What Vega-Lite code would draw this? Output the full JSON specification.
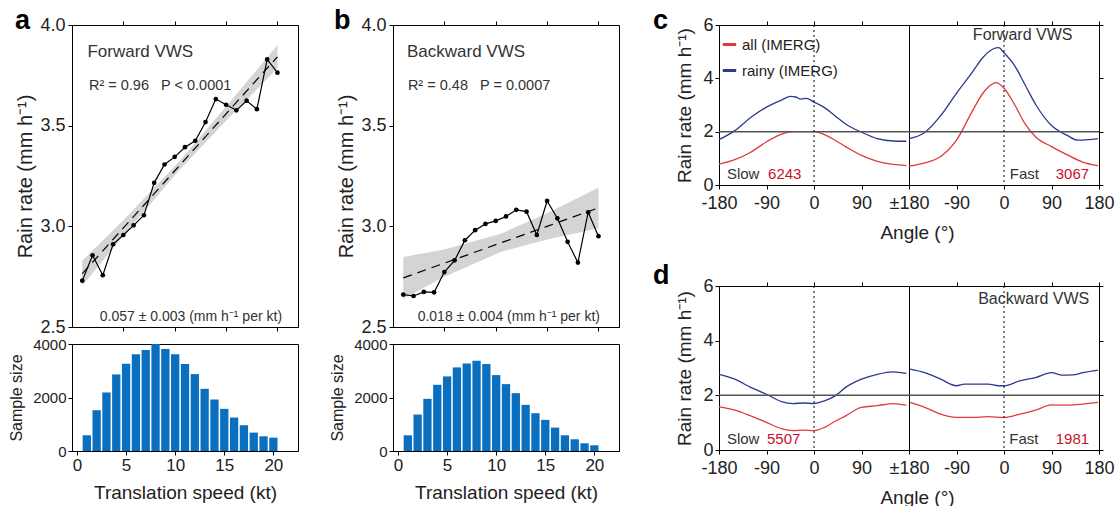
{
"$schema": "https://vega.github.io/schema/vega-lite/v6.json",
"padding": {"left": 8, "top": 6, "right": 5, "bottom": 5},
"config": {
  "font": "Liberation Sans",
  "view": {"stroke": "black", "strokeWidth": 1},
  "axis": {"grid": false, "domainColor": "black", "tickColor": "black", "labelColor": "#222", "titleColor": "#222", "labelFont": "Liberation Sans", "titleFont": "Liberation Sans", "titleFontWeight": "normal", "tickSize": 4, "labelOverlap": false, "labelFlush": false},
  "text": {"font": "Liberation Sans", "color": "#333"}
},
"datasets": {
  "pts": [
    {"shear": "Forward", "speed": 1, "rate": 2.73}, {"shear": "Forward", "speed": 2, "rate": 2.856}, {"shear": "Forward", "speed": 3, "rate": 2.757}, {"shear": "Forward", "speed": 4, "rate": 2.911}, {"shear": "Forward", "speed": 5, "rate": 2.957}, {"shear": "Forward", "speed": 6, "rate": 3.005}, {"shear": "Forward", "speed": 7, "rate": 3.055}, {"shear": "Forward", "speed": 8, "rate": 3.216}, {"shear": "Forward", "speed": 9, "rate": 3.307}, {"shear": "Forward", "speed": 10, "rate": 3.345}, {"shear": "Forward", "speed": 11, "rate": 3.393}, {"shear": "Forward", "speed": 12, "rate": 3.425}, {"shear": "Forward", "speed": 13, "rate": 3.518}, {"shear": "Forward", "speed": 14, "rate": 3.632}, {"shear": "Forward", "speed": 15, "rate": 3.604}, {"shear": "Forward", "speed": 16, "rate": 3.576}, {"shear": "Forward", "speed": 17, "rate": 3.624}, {"shear": "Forward", "speed": 18, "rate": 3.582}, {"shear": "Forward", "speed": 19, "rate": 3.829}, {"shear": "Forward", "speed": 20, "rate": 3.763},
    {"shear": "Backward", "speed": 1, "rate": 2.661}, {"shear": "Backward", "speed": 2, "rate": 2.654}, {"shear": "Backward", "speed": 3, "rate": 2.674}, {"shear": "Backward", "speed": 4, "rate": 2.672}, {"shear": "Backward", "speed": 5, "rate": 2.773}, {"shear": "Backward", "speed": 6, "rate": 2.831}, {"shear": "Backward", "speed": 7, "rate": 2.931}, {"shear": "Backward", "speed": 8, "rate": 2.981}, {"shear": "Backward", "speed": 9, "rate": 3.012}, {"shear": "Backward", "speed": 10, "rate": 3.027}, {"shear": "Backward", "speed": 11, "rate": 3.049}, {"shear": "Backward", "speed": 12, "rate": 3.082}, {"shear": "Backward", "speed": 13, "rate": 3.073}, {"shear": "Backward", "speed": 14, "rate": 2.957}, {"shear": "Backward", "speed": 15, "rate": 3.126}, {"shear": "Backward", "speed": 16, "rate": 3.04}, {"shear": "Backward", "speed": 17, "rate": 2.923}, {"shear": "Backward", "speed": 18, "rate": 2.82}, {"shear": "Backward", "speed": 19, "rate": 3.07}, {"shear": "Backward", "speed": 20, "rate": 2.951}
  ],
  "fits": [
    {"shear": "Forward", "speed": 1, "fit": 2.765, "lo": 2.705, "hi": 2.83}, {"shear": "Forward", "speed": 5, "fit": 2.992, "lo": 2.955, "hi": 3.03}, {"shear": "Forward", "speed": 10.5, "fit": 3.304, "lo": 3.282, "hi": 3.326}, {"shear": "Forward", "speed": 15, "fit": 3.559, "lo": 3.525, "hi": 3.595}, {"shear": "Forward", "speed": 20, "fit": 3.842, "lo": 3.785, "hi": 3.9},
    {"shear": "Backward", "speed": 1, "fit": 2.744, "lo": 2.64, "hi": 2.848}, {"shear": "Backward", "speed": 5, "fit": 2.817, "lo": 2.75, "hi": 2.885}, {"shear": "Backward", "speed": 10.5, "fit": 2.918, "lo": 2.873, "hi": 2.963}, {"shear": "Backward", "speed": 15, "fit": 3.0, "lo": 2.935, "hi": 3.065}, {"shear": "Backward", "speed": 20, "fit": 3.092, "lo": 2.99, "hi": 3.192}
  ],
  "counts": [
    {"shear": "Forward", "speed": 1, "n": 588}, {"shear": "Forward", "speed": 2, "n": 1525}, {"shear": "Forward", "speed": 3, "n": 2188}, {"shear": "Forward", "speed": 4, "n": 2863}, {"shear": "Forward", "speed": 5, "n": 3263}, {"shear": "Forward", "speed": 6, "n": 3613}, {"shear": "Forward", "speed": 7, "n": 3775}, {"shear": "Forward", "speed": 8, "n": 4000}, {"shear": "Forward", "speed": 9, "n": 3813}, {"shear": "Forward", "speed": 10, "n": 3613}, {"shear": "Forward", "speed": 11, "n": 3250}, {"shear": "Forward", "speed": 12, "n": 2875}, {"shear": "Forward", "speed": 13, "n": 2325}, {"shear": "Forward", "speed": 14, "n": 1925}, {"shear": "Forward", "speed": 15, "n": 1575}, {"shear": "Forward", "speed": 16, "n": 1250}, {"shear": "Forward", "speed": 17, "n": 963}, {"shear": "Forward", "speed": 18, "n": 688}, {"shear": "Forward", "speed": 19, "n": 550}, {"shear": "Forward", "speed": 20, "n": 500},
    {"shear": "Backward", "speed": 1, "n": 588}, {"shear": "Backward", "speed": 2, "n": 1363}, {"shear": "Backward", "speed": 3, "n": 1950}, {"shear": "Backward", "speed": 4, "n": 2475}, {"shear": "Backward", "speed": 5, "n": 2788}, {"shear": "Backward", "speed": 6, "n": 3125}, {"shear": "Backward", "speed": 7, "n": 3275}, {"shear": "Backward", "speed": 8, "n": 3375}, {"shear": "Backward", "speed": 9, "n": 3250}, {"shear": "Backward", "speed": 10, "n": 2838}, {"shear": "Backward", "speed": 11, "n": 2500}, {"shear": "Backward", "speed": 12, "n": 2163}, {"shear": "Backward", "speed": 13, "n": 1725}, {"shear": "Backward", "speed": 14, "n": 1413}, {"shear": "Backward", "speed": 15, "n": 1163}, {"shear": "Backward", "speed": 16, "n": 875}, {"shear": "Backward", "speed": 17, "n": 588}, {"shear": "Backward", "speed": 18, "n": 438}, {"shear": "Backward", "speed": 19, "n": 288}, {"shear": "Backward", "speed": 20, "n": 213}
  ],
  "prof": [
    {"shear": "Forward", "cls": "Slow", "type": "all (IMERG)", "angle": -180, "rate": 0.78}, {"shear": "Forward", "cls": "Slow", "type": "all (IMERG)", "angle": -150, "rate": 0.95}, {"shear": "Forward", "cls": "Slow", "type": "all (IMERG)", "angle": -120, "rate": 1.23}, {"shear": "Forward", "cls": "Slow", "type": "all (IMERG)", "angle": -90, "rate": 1.62}, {"shear": "Forward", "cls": "Slow", "type": "all (IMERG)", "angle": -60, "rate": 1.92}, {"shear": "Forward", "cls": "Slow", "type": "all (IMERG)", "angle": -40, "rate": 2.0}, {"shear": "Forward", "cls": "Slow", "type": "all (IMERG)", "angle": -20, "rate": 2.0}, {"shear": "Forward", "cls": "Slow", "type": "all (IMERG)", "angle": 0, "rate": 2.0}, {"shear": "Forward", "cls": "Slow", "type": "all (IMERG)", "angle": 20, "rate": 1.89}, {"shear": "Forward", "cls": "Slow", "type": "all (IMERG)", "angle": 40, "rate": 1.68}, {"shear": "Forward", "cls": "Slow", "type": "all (IMERG)", "angle": 60, "rate": 1.44}, {"shear": "Forward", "cls": "Slow", "type": "all (IMERG)", "angle": 90, "rate": 1.11}, {"shear": "Forward", "cls": "Slow", "type": "all (IMERG)", "angle": 120, "rate": 0.89}, {"shear": "Forward", "cls": "Slow", "type": "all (IMERG)", "angle": 150, "rate": 0.77}, {"shear": "Forward", "cls": "Slow", "type": "all (IMERG)", "angle": 175, "rate": 0.73},
    {"shear": "Forward", "cls": "Slow", "type": "rainy (IMERG)", "angle": -180, "rate": 1.70}, {"shear": "Forward", "cls": "Slow", "type": "rainy (IMERG)", "angle": -150, "rate": 2.04}, {"shear": "Forward", "cls": "Slow", "type": "rainy (IMERG)", "angle": -120, "rate": 2.53}, {"shear": "Forward", "cls": "Slow", "type": "rainy (IMERG)", "angle": -90, "rate": 2.92}, {"shear": "Forward", "cls": "Slow", "type": "rainy (IMERG)", "angle": -60, "rate": 3.20}, {"shear": "Forward", "cls": "Slow", "type": "rainy (IMERG)", "angle": -45, "rate": 3.32}, {"shear": "Forward", "cls": "Slow", "type": "rainy (IMERG)", "angle": -35, "rate": 3.30}, {"shear": "Forward", "cls": "Slow", "type": "rainy (IMERG)", "angle": -25, "rate": 3.22}, {"shear": "Forward", "cls": "Slow", "type": "rainy (IMERG)", "angle": -15, "rate": 3.25}, {"shear": "Forward", "cls": "Slow", "type": "rainy (IMERG)", "angle": 0, "rate": 3.11}, {"shear": "Forward", "cls": "Slow", "type": "rainy (IMERG)", "angle": 20, "rate": 2.90}, {"shear": "Forward", "cls": "Slow", "type": "rainy (IMERG)", "angle": 40, "rate": 2.59}, {"shear": "Forward", "cls": "Slow", "type": "rainy (IMERG)", "angle": 60, "rate": 2.29}, {"shear": "Forward", "cls": "Slow", "type": "rainy (IMERG)", "angle": 90, "rate": 1.98}, {"shear": "Forward", "cls": "Slow", "type": "rainy (IMERG)", "angle": 120, "rate": 1.74}, {"shear": "Forward", "cls": "Slow", "type": "rainy (IMERG)", "angle": 150, "rate": 1.65}, {"shear": "Forward", "cls": "Slow", "type": "rainy (IMERG)", "angle": 175, "rate": 1.64},
    {"shear": "Forward", "cls": "Fast", "type": "all (IMERG)", "angle": -180, "rate": 0.71}, {"shear": "Forward", "cls": "Fast", "type": "all (IMERG)", "angle": -150, "rate": 0.83}, {"shear": "Forward", "cls": "Fast", "type": "all (IMERG)", "angle": -120, "rate": 1.07}, {"shear": "Forward", "cls": "Fast", "type": "all (IMERG)", "angle": -90, "rate": 1.68}, {"shear": "Forward", "cls": "Fast", "type": "all (IMERG)", "angle": -60, "rate": 2.77}, {"shear": "Forward", "cls": "Fast", "type": "all (IMERG)", "angle": -40, "rate": 3.44}, {"shear": "Forward", "cls": "Fast", "type": "all (IMERG)", "angle": -20, "rate": 3.81}, {"shear": "Forward", "cls": "Fast", "type": "all (IMERG)", "angle": -15, "rate": 3.84}, {"shear": "Forward", "cls": "Fast", "type": "all (IMERG)", "angle": 0, "rate": 3.63}, {"shear": "Forward", "cls": "Fast", "type": "all (IMERG)", "angle": 20, "rate": 3.02}, {"shear": "Forward", "cls": "Fast", "type": "all (IMERG)", "angle": 40, "rate": 2.29}, {"shear": "Forward", "cls": "Fast", "type": "all (IMERG)", "angle": 60, "rate": 1.80}, {"shear": "Forward", "cls": "Fast", "type": "all (IMERG)", "angle": 90, "rate": 1.44}, {"shear": "Forward", "cls": "Fast", "type": "all (IMERG)", "angle": 120, "rate": 1.13}, {"shear": "Forward", "cls": "Fast", "type": "all (IMERG)", "angle": 150, "rate": 0.85}, {"shear": "Forward", "cls": "Fast", "type": "all (IMERG)", "angle": 178, "rate": 0.73},
    {"shear": "Forward", "cls": "Fast", "type": "rainy (IMERG)", "angle": -180, "rate": 1.74}, {"shear": "Forward", "cls": "Fast", "type": "rainy (IMERG)", "angle": -150, "rate": 1.97}, {"shear": "Forward", "cls": "Fast", "type": "rainy (IMERG)", "angle": -120, "rate": 2.6}, {"shear": "Forward", "cls": "Fast", "type": "rainy (IMERG)", "angle": -90, "rate": 3.44}, {"shear": "Forward", "cls": "Fast", "type": "rainy (IMERG)", "angle": -60, "rate": 4.23}, {"shear": "Forward", "cls": "Fast", "type": "rainy (IMERG)", "angle": -40, "rate": 4.78}, {"shear": "Forward", "cls": "Fast", "type": "rainy (IMERG)", "angle": -20, "rate": 5.11}, {"shear": "Forward", "cls": "Fast", "type": "rainy (IMERG)", "angle": -10, "rate": 5.15}, {"shear": "Forward", "cls": "Fast", "type": "rainy (IMERG)", "angle": 0, "rate": 4.96}, {"shear": "Forward", "cls": "Fast", "type": "rainy (IMERG)", "angle": 20, "rate": 4.48}, {"shear": "Forward", "cls": "Fast", "type": "rainy (IMERG)", "angle": 40, "rate": 3.75}, {"shear": "Forward", "cls": "Fast", "type": "rainy (IMERG)", "angle": 60, "rate": 3.02}, {"shear": "Forward", "cls": "Fast", "type": "rainy (IMERG)", "angle": 90, "rate": 2.23}, {"shear": "Forward", "cls": "Fast", "type": "rainy (IMERG)", "angle": 120, "rate": 1.86}, {"shear": "Forward", "cls": "Fast", "type": "rainy (IMERG)", "angle": 140, "rate": 1.68}, {"shear": "Forward", "cls": "Fast", "type": "rainy (IMERG)", "angle": 160, "rate": 1.70}, {"shear": "Forward", "cls": "Fast", "type": "rainy (IMERG)", "angle": 178, "rate": 1.74},
    {"shear": "Backward", "cls": "Slow", "type": "all (IMERG)", "angle": -180, "rate": 1.58}, {"shear": "Backward", "cls": "Slow", "type": "all (IMERG)", "angle": -150, "rate": 1.46}, {"shear": "Backward", "cls": "Slow", "type": "all (IMERG)", "angle": -120, "rate": 1.25}, {"shear": "Backward", "cls": "Slow", "type": "all (IMERG)", "angle": -90, "rate": 1.01}, {"shear": "Backward", "cls": "Slow", "type": "all (IMERG)", "angle": -60, "rate": 0.77}, {"shear": "Backward", "cls": "Slow", "type": "all (IMERG)", "angle": -40, "rate": 0.71}, {"shear": "Backward", "cls": "Slow", "type": "all (IMERG)", "angle": -20, "rate": 0.73}, {"shear": "Backward", "cls": "Slow", "type": "all (IMERG)", "angle": 0, "rate": 0.71}, {"shear": "Backward", "cls": "Slow", "type": "all (IMERG)", "angle": 20, "rate": 0.83}, {"shear": "Backward", "cls": "Slow", "type": "all (IMERG)", "angle": 40, "rate": 1.05}, {"shear": "Backward", "cls": "Slow", "type": "all (IMERG)", "angle": 60, "rate": 1.25}, {"shear": "Backward", "cls": "Slow", "type": "all (IMERG)", "angle": 90, "rate": 1.56}, {"shear": "Backward", "cls": "Slow", "type": "all (IMERG)", "angle": 120, "rate": 1.62}, {"shear": "Backward", "cls": "Slow", "type": "all (IMERG)", "angle": 150, "rate": 1.70}, {"shear": "Backward", "cls": "Slow", "type": "all (IMERG)", "angle": 175, "rate": 1.64},
    {"shear": "Backward", "cls": "Slow", "type": "rainy (IMERG)", "angle": -180, "rate": 2.77}, {"shear": "Backward", "cls": "Slow", "type": "rainy (IMERG)", "angle": -150, "rate": 2.59}, {"shear": "Backward", "cls": "Slow", "type": "rainy (IMERG)", "angle": -120, "rate": 2.29}, {"shear": "Backward", "cls": "Slow", "type": "rainy (IMERG)", "angle": -90, "rate": 2.04}, {"shear": "Backward", "cls": "Slow", "type": "rainy (IMERG)", "angle": -60, "rate": 1.76}, {"shear": "Backward", "cls": "Slow", "type": "rainy (IMERG)", "angle": -40, "rate": 1.70}, {"shear": "Backward", "cls": "Slow", "type": "rainy (IMERG)", "angle": -20, "rate": 1.72}, {"shear": "Backward", "cls": "Slow", "type": "rainy (IMERG)", "angle": 0, "rate": 1.70}, {"shear": "Backward", "cls": "Slow", "type": "rainy (IMERG)", "angle": 20, "rate": 1.80}, {"shear": "Backward", "cls": "Slow", "type": "rainy (IMERG)", "angle": 40, "rate": 1.98}, {"shear": "Backward", "cls": "Slow", "type": "rainy (IMERG)", "angle": 60, "rate": 2.29}, {"shear": "Backward", "cls": "Slow", "type": "rainy (IMERG)", "angle": 90, "rate": 2.59}, {"shear": "Backward", "cls": "Slow", "type": "rainy (IMERG)", "angle": 120, "rate": 2.77}, {"shear": "Backward", "cls": "Slow", "type": "rainy (IMERG)", "angle": 150, "rate": 2.86}, {"shear": "Backward", "cls": "Slow", "type": "rainy (IMERG)", "angle": 175, "rate": 2.80},
    {"shear": "Backward", "cls": "Fast", "type": "all (IMERG)", "angle": -178, "rate": 1.74}, {"shear": "Backward", "cls": "Fast", "type": "all (IMERG)", "angle": -150, "rate": 1.56}, {"shear": "Backward", "cls": "Fast", "type": "all (IMERG)", "angle": -120, "rate": 1.31}, {"shear": "Backward", "cls": "Fast", "type": "all (IMERG)", "angle": -90, "rate": 1.19}, {"shear": "Backward", "cls": "Fast", "type": "all (IMERG)", "angle": -60, "rate": 1.19}, {"shear": "Backward", "cls": "Fast", "type": "all (IMERG)", "angle": -30, "rate": 1.22}, {"shear": "Backward", "cls": "Fast", "type": "all (IMERG)", "angle": 0, "rate": 1.19}, {"shear": "Backward", "cls": "Fast", "type": "all (IMERG)", "angle": 30, "rate": 1.31}, {"shear": "Backward", "cls": "Fast", "type": "all (IMERG)", "angle": 60, "rate": 1.46}, {"shear": "Backward", "cls": "Fast", "type": "all (IMERG)", "angle": 90, "rate": 1.65}, {"shear": "Backward", "cls": "Fast", "type": "all (IMERG)", "angle": 120, "rate": 1.64}, {"shear": "Backward", "cls": "Fast", "type": "all (IMERG)", "angle": 150, "rate": 1.68}, {"shear": "Backward", "cls": "Fast", "type": "all (IMERG)", "angle": 178, "rate": 1.74},
    {"shear": "Backward", "cls": "Fast", "type": "rainy (IMERG)", "angle": -178, "rate": 2.96}, {"shear": "Backward", "cls": "Fast", "type": "rainy (IMERG)", "angle": -150, "rate": 2.83}, {"shear": "Backward", "cls": "Fast", "type": "rainy (IMERG)", "angle": -120, "rate": 2.59}, {"shear": "Backward", "cls": "Fast", "type": "rainy (IMERG)", "angle": -90, "rate": 2.35}, {"shear": "Backward", "cls": "Fast", "type": "rainy (IMERG)", "angle": -75, "rate": 2.41}, {"shear": "Backward", "cls": "Fast", "type": "rainy (IMERG)", "angle": -60, "rate": 2.41}, {"shear": "Backward", "cls": "Fast", "type": "rainy (IMERG)", "angle": -30, "rate": 2.41}, {"shear": "Backward", "cls": "Fast", "type": "rainy (IMERG)", "angle": -10, "rate": 2.35}, {"shear": "Backward", "cls": "Fast", "type": "rainy (IMERG)", "angle": 0, "rate": 2.35}, {"shear": "Backward", "cls": "Fast", "type": "rainy (IMERG)", "angle": 30, "rate": 2.53}, {"shear": "Backward", "cls": "Fast", "type": "rainy (IMERG)", "angle": 60, "rate": 2.65}, {"shear": "Backward", "cls": "Fast", "type": "rainy (IMERG)", "angle": 90, "rate": 2.83}, {"shear": "Backward", "cls": "Fast", "type": "rainy (IMERG)", "angle": 110, "rate": 2.74}, {"shear": "Backward", "cls": "Fast", "type": "rainy (IMERG)", "angle": 130, "rate": 2.75}, {"shear": "Backward", "cls": "Fast", "type": "rainy (IMERG)", "angle": 150, "rate": 2.83}, {"shear": "Backward", "cls": "Fast", "type": "rainy (IMERG)", "angle": 178, "rate": 2.92}
  ]
},
"spacing": 32,
"hconcat": [
  {"spacing": 30, "hconcat": [
    {"bounds": "flush", "spacing": 17, "vconcat": [
      {"width": 226, "height": 302,
       "title": {"text": "a", "anchor": "start", "frame": "group", "fontSize": 27, "fontWeight": "bold", "offset": 0, "baseline": "alphabetic", "dx": -57, "dy": 40, "color": "black"},
       "resolve": {"axis": {"x": "independent"}},
       "layer": [
        {"data": {"name": "fits"}, "transform": [{"filter": "datum.shear == 'Forward'"}], "mark": {"type": "area", "color": "#d4d4d4"},
         "encoding": {"x": {"field": "speed", "type": "quantitative", "scale": {"domain": [0, 22], "nice": false}, "axis": {"values": [5, 10, 15, 20], "labels": false, "title": null}},
                      "y": {"field": "lo", "type": "quantitative", "scale": {"domain": [2.5, 4.0], "nice": false}, "axis": {"values": [2.5, 3.0, 3.5, 4.0], "format": ".1f", "labelFontSize": 18, "title": "Rain rate (mm h⁻¹)", "titleFontSize": 20, "labelPadding": 3, "titlePadding": 4}},
                      "y2": {"field": "hi"}}},
        {"data": {"name": "fits"}, "transform": [{"filter": "datum.shear == 'Forward'"}], "mark": {"type": "line", "color": "black", "strokeWidth": 1.2, "strokeDash": [9, 6]},
         "encoding": {"x": {"field": "speed", "type": "quantitative", "axis": {"orient": "top", "values": [5, 10, 15, 20], "labels": false, "title": null, "domain": false}}, "y": {"field": "fit", "type": "quantitative"}}},
        {"data": {"name": "pts"}, "transform": [{"filter": "datum.shear == 'Forward'"}], "mark": {"type": "line", "color": "black", "strokeWidth": 1.2, "point": {"filled": true, "size": 22, "color": "black"}},
         "encoding": {"x": {"field": "speed", "type": "quantitative", "axis": null}, "y": {"field": "rate", "type": "quantitative"}}},
        {"data": {"values": [{}]}, "mark": {"type": "text", "text": "Forward VWS", "fontSize": 17, "align": "left", "baseline": "alphabetic"}, "encoding": {"x": {"datum": 1.5, "axis": null}, "y": {"datum": 3.84}}},
        {"data": {"values": [{}]}, "mark": {"type": "text", "text": "R² = 0.96\u00a0\u00a0\u00a0P < 0.0001", "fontSize": 14.5, "align": "left", "baseline": "alphabetic"}, "encoding": {"x": {"datum": 1.65, "axis": null}, "y": {"datum": 3.677}}},
        {"data": {"values": [{}]}, "mark": {"type": "text", "text": "0.057 ± 0.003 (mm h⁻¹ per kt)", "fontSize": 14, "align": "left", "baseline": "alphabetic"}, "encoding": {"x": {"datum": 2.7, "axis": null}, "y": {"datum": 2.532}}}
       ]},
      {"width": 226, "height": 107,
       "data": {"name": "counts"}, "transform": [{"filter": "datum.shear == 'Forward'"}],
       "mark": {"type": "bar", "color": "#0b6fc0", "width": 8.3},
       "encoding": {"x": {"field": "speed", "type": "quantitative", "scale": {"domain": [0, 22], "nice": false}, "axis": {"values": [0, 5, 10, 15, 20], "labelFontSize": 17, "title": "Translation speed (kt)", "titleFontSize": 19, "titlePadding": 10}},
                    "y": {"field": "n", "type": "quantitative", "scale": {"domain": [0, 4000], "nice": false}, "axis": {"values": [0, 2000, 4000], "format": "d", "labelFontSize": 15, "title": "Sample size", "titleFontSize": 16, "titlePadding": 8}}}}
    ]},
    {"bounds": "flush", "spacing": 17, "vconcat": [
      {"width": 226, "height": 302,
       "title": {"text": "b", "anchor": "start", "frame": "group", "fontSize": 27, "fontWeight": "bold", "offset": 0, "baseline": "alphabetic", "dx": -59, "dy": 40, "color": "black"},
       "resolve": {"axis": {"x": "independent"}},
       "layer": [
        {"data": {"name": "fits"}, "transform": [{"filter": "datum.shear == 'Backward'"}], "mark": {"type": "area", "color": "#d4d4d4"},
         "encoding": {"x": {"field": "speed", "type": "quantitative", "scale": {"domain": [0, 22], "nice": false}, "axis": {"values": [5, 10, 15, 20], "labels": false, "title": null}},
                      "y": {"field": "lo", "type": "quantitative", "scale": {"domain": [2.5, 4.0], "nice": false}, "axis": {"values": [2.5, 3.0, 3.5, 4.0], "format": ".1f", "labelFontSize": 18, "title": "Rain rate (mm h⁻¹)", "titleFontSize": 20, "labelPadding": 3, "titlePadding": 4}},
                      "y2": {"field": "hi"}}},
        {"data": {"name": "fits"}, "transform": [{"filter": "datum.shear == 'Backward'"}], "mark": {"type": "line", "color": "black", "strokeWidth": 1.2, "strokeDash": [9, 6]},
         "encoding": {"x": {"field": "speed", "type": "quantitative", "axis": {"orient": "top", "values": [5, 10, 15, 20], "labels": false, "title": null, "domain": false}}, "y": {"field": "fit", "type": "quantitative"}}},
        {"data": {"name": "pts"}, "transform": [{"filter": "datum.shear == 'Backward'"}], "mark": {"type": "line", "color": "black", "strokeWidth": 1.2, "point": {"filled": true, "size": 22, "color": "black"}},
         "encoding": {"x": {"field": "speed", "type": "quantitative", "axis": null}, "y": {"field": "rate", "type": "quantitative"}}},
        {"data": {"values": [{}]}, "mark": {"type": "text", "text": "Backward VWS", "fontSize": 17, "align": "left", "baseline": "alphabetic"}, "encoding": {"x": {"datum": 1.36, "axis": null}, "y": {"datum": 3.84}}},
        {"data": {"values": [{}]}, "mark": {"type": "text", "text": "R² = 0.48\u00a0\u00a0\u00a0P = 0.0007", "fontSize": 14.5, "align": "left", "baseline": "alphabetic"}, "encoding": {"x": {"datum": 1.45, "axis": null}, "y": {"datum": 3.677}}},
        {"data": {"values": [{}]}, "mark": {"type": "text", "text": "0.018 ± 0.004 (mm h⁻¹ per kt)", "fontSize": 14, "align": "left", "baseline": "alphabetic"}, "encoding": {"x": {"datum": 2.4, "axis": null}, "y": {"datum": 2.532}}}
       ]},
      {"width": 226, "height": 107,
       "data": {"name": "counts"}, "transform": [{"filter": "datum.shear == 'Backward'"}],
       "mark": {"type": "bar", "color": "#0b6fc0", "width": 8.3},
       "encoding": {"x": {"field": "speed", "type": "quantitative", "scale": {"domain": [0, 22], "nice": false}, "axis": {"values": [0, 5, 10, 15, 20], "labelFontSize": 17, "title": "Translation speed (kt)", "titleFontSize": 19, "titlePadding": 10}},
                    "y": {"field": "n", "type": "quantitative", "scale": {"domain": [0, 4000], "nice": false}, "axis": {"values": [0, 2000, 4000], "format": "d", "labelFontSize": 15, "title": "Sample size", "titleFontSize": 16, "titlePadding": 8}}}}
    ]}
  ]},
  {"spacing": 18, "vconcat": [
    {"bounds": "flush", "spacing": 0, "resolve": {"legend": {"color": "independent"}}, "hconcat": [
      {"width": 190, "height": 160,
       "title": {"text": "c", "anchor": "start", "frame": "group", "fontSize": 27, "fontWeight": "bold", "offset": 0, "baseline": "alphabetic", "dx": -66, "dy": 40, "color": "black"},
       "resolve": {"axis": {"x": "independent"}},
       "layer": [
        {"data": {"name": "prof"}, "transform": [{"filter": "datum.shear == 'Forward' && datum.cls == 'Slow'"}], "mark": {"type": "line", "interpolate": "monotone", "strokeWidth": 1.3},
         "encoding": {"x": {"field": "angle", "type": "quantitative", "scale": {"domain": [-180, 180], "nice": false}, "axis": {"values": [-180, -90, 0, 90, 180], "labelExpr": "datum.value == 180 ? '±180' : '' + datum.value", "labelFontSize": 18, "labelPadding": 5, "title": "Angle (°)", "titleFontSize": 19, "titleX": 198, "titlePadding": 11}},
                      "y": {"field": "rate", "type": "quantitative", "scale": {"domain": [0, 6], "nice": false}, "axis": {"values": [0, 2, 4, 6], "labelFontSize": 18, "title": "Rain rate (mm h⁻¹)", "titleFontSize": 19, "titlePadding": 8}},
                      "color": {"field": "type", "type": "nominal", "scale": {"domain": ["all (IMERG)", "rainy (IMERG)"], "range": ["#e2393b", "#2b3990"]}, "legend": {"orient": "none", "legendX": 2, "legendY": 11, "title": null, "symbolType": "stroke", "symbolStrokeWidth": 3, "symbolSize": 180, "labelFontSize": 15, "labelColor": "#222", "rowPadding": 9, "padding": 0}}}},
        {"data": {"values": [{}]}, "mark": {"type": "rule", "color": "#555", "strokeWidth": 1.5}, "encoding": {"y": {"datum": 2}}},
        {"data": {"values": [{}]}, "mark": {"type": "rule", "color": "black", "strokeDash": [2, 3]}, "encoding": {"x": {"datum": 0, "axis": {"orient": "top", "values": [-90, 0, 90], "labels": false, "title": null, "domain": false}}}},
        {"data": {"values": [{}]}, "mark": {"type": "text", "text": "Slow", "fontSize": 15, "align": "left", "baseline": "alphabetic"}, "encoding": {"x": {"datum": -165, "axis": null}, "y": {"datum": 0.22}}},
        {"data": {"values": [{}]}, "mark": {"type": "text", "text": "6243", "fontSize": 15, "align": "left", "baseline": "alphabetic", "color": "#c8102e"}, "encoding": {"x": {"datum": -87, "axis": null}, "y": {"datum": 0.22}}}
       ]},
      {"width": 190, "height": 160,
       "resolve": {"axis": {"x": "independent"}},
       "layer": [
        {"data": {"name": "prof"}, "transform": [{"filter": "datum.shear == 'Forward' && datum.cls == 'Fast'"}], "mark": {"type": "line", "interpolate": "monotone", "strokeWidth": 1.3},
         "encoding": {"x": {"field": "angle", "type": "quantitative", "scale": {"domain": [-180, 180], "nice": false}, "axis": {"values": [-90, 0, 90, 180], "labelExpr": "'' + datum.value", "labelFontSize": 18, "labelPadding": 5, "title": null}},
                      "y": {"field": "rate", "type": "quantitative", "scale": {"domain": [0, 6], "nice": false}, "axis": {"orient": "right", "values": [0, 2, 4, 6], "labels": false, "title": null}},
                      "color": {"field": "type", "type": "nominal", "scale": {"domain": ["all (IMERG)", "rainy (IMERG)"], "range": ["#e2393b", "#2b3990"]}, "legend": null}}},
        {"data": {"values": [{}]}, "mark": {"type": "rule", "color": "#555", "strokeWidth": 1.5}, "encoding": {"y": {"datum": 2}}},
        {"data": {"values": [{}]}, "mark": {"type": "rule", "color": "black", "strokeDash": [2, 3]}, "encoding": {"x": {"datum": 0, "axis": {"orient": "top", "values": [-90, 0, 90, 180], "labels": false, "title": null, "domain": false}}}},
        {"data": {"values": [{}]}, "mark": {"type": "text", "text": "Forward VWS", "fontSize": 16, "align": "left", "baseline": "alphabetic"}, "encoding": {"x": {"datum": -59, "axis": null}, "y": {"datum": 5.45}}},
        {"data": {"values": [{}]}, "mark": {"type": "text", "text": "Fast", "fontSize": 15, "align": "left", "baseline": "alphabetic"}, "encoding": {"x": {"datum": 11, "axis": null}, "y": {"datum": 0.22}}},
        {"data": {"values": [{}]}, "mark": {"type": "text", "text": "3067", "fontSize": 15, "align": "left", "baseline": "alphabetic", "color": "#c8102e"}, "encoding": {"x": {"datum": 98, "axis": null}, "y": {"datum": 0.22}}}
       ]}
    ]},
    {"bounds": "flush", "spacing": 0, "resolve": {"legend": {"color": "independent"}}, "hconcat": [
      {"width": 190, "height": 164,
       "title": {"text": "d", "anchor": "start", "frame": "group", "fontSize": 27, "fontWeight": "bold", "offset": 0, "baseline": "alphabetic", "dx": -66, "dy": 34, "color": "black"},
       "resolve": {"axis": {"x": "independent"}},
       "layer": [
        {"data": {"name": "prof"}, "transform": [{"filter": "datum.shear == 'Backward' && datum.cls == 'Slow'"}], "mark": {"type": "line", "interpolate": "monotone", "strokeWidth": 1.3},
         "encoding": {"x": {"field": "angle", "type": "quantitative", "scale": {"domain": [-180, 180], "nice": false}, "axis": {"values": [-180, -90, 0, 90, 180], "labelExpr": "datum.value == 180 ? '±180' : '' + datum.value", "labelFontSize": 18, "labelPadding": 5, "title": "Angle (°)", "titleFontSize": 19, "titleX": 198, "titlePadding": 11}},
                      "y": {"field": "rate", "type": "quantitative", "scale": {"domain": [0, 6], "nice": false}, "axis": {"values": [0, 2, 4, 6], "labelFontSize": 18, "title": "Rain rate (mm h⁻¹)", "titleFontSize": 19, "titlePadding": 8}},
                      "color": {"field": "type", "type": "nominal", "scale": {"domain": ["all (IMERG)", "rainy (IMERG)"], "range": ["#e2393b", "#2b3990"]}, "legend": null}}},
        {"data": {"values": [{}]}, "mark": {"type": "rule", "color": "#555", "strokeWidth": 1.5}, "encoding": {"y": {"datum": 2}}},
        {"data": {"values": [{}]}, "mark": {"type": "rule", "color": "black", "strokeDash": [2, 3]}, "encoding": {"x": {"datum": 0, "axis": {"orient": "top", "values": [-90, 0, 90], "labels": false, "title": null, "domain": false}}}},
        {"data": {"values": [{}]}, "mark": {"type": "text", "text": "Slow", "fontSize": 15, "align": "left", "baseline": "alphabetic"}, "encoding": {"x": {"datum": -165, "axis": null}, "y": {"datum": 0.22}}},
        {"data": {"values": [{}]}, "mark": {"type": "text", "text": "5507", "fontSize": 15, "align": "left", "baseline": "alphabetic", "color": "#c8102e"}, "encoding": {"x": {"datum": -89, "axis": null}, "y": {"datum": 0.22}}}
       ]},
      {"width": 190, "height": 164,
       "resolve": {"axis": {"x": "independent"}},
       "layer": [
        {"data": {"name": "prof"}, "transform": [{"filter": "datum.shear == 'Backward' && datum.cls == 'Fast'"}], "mark": {"type": "line", "interpolate": "monotone", "strokeWidth": 1.3},
         "encoding": {"x": {"field": "angle", "type": "quantitative", "scale": {"domain": [-180, 180], "nice": false}, "axis": {"values": [-90, 0, 90, 180], "labelExpr": "'' + datum.value", "labelFontSize": 18, "labelPadding": 5, "title": null}},
                      "y": {"field": "rate", "type": "quantitative", "scale": {"domain": [0, 6], "nice": false}, "axis": {"orient": "right", "values": [0, 2, 4, 6], "labels": false, "title": null}},
                      "color": {"field": "type", "type": "nominal", "scale": {"domain": ["all (IMERG)", "rainy (IMERG)"], "range": ["#e2393b", "#2b3990"]}, "legend": null}}},
        {"data": {"values": [{}]}, "mark": {"type": "rule", "color": "#555", "strokeWidth": 1.5}, "encoding": {"y": {"datum": 2}}},
        {"data": {"values": [{}]}, "mark": {"type": "rule", "color": "black", "strokeDash": [2, 3]}, "encoding": {"x": {"datum": 0, "axis": {"orient": "top", "values": [-90, 0, 90, 180], "labels": false, "title": null, "domain": false}}}},
        {"data": {"values": [{}]}, "mark": {"type": "text", "text": "Backward VWS", "fontSize": 16, "align": "left", "baseline": "alphabetic"}, "encoding": {"x": {"datum": -49, "axis": null}, "y": {"datum": 5.35}}},
        {"data": {"values": [{}]}, "mark": {"type": "text", "text": "Fast", "fontSize": 15, "align": "left", "baseline": "alphabetic"}, "encoding": {"x": {"datum": 10, "axis": null}, "y": {"datum": 0.22}}},
        {"data": {"values": [{}]}, "mark": {"type": "text", "text": "1981", "fontSize": 15, "align": "left", "baseline": "alphabetic", "color": "#c8102e"}, "encoding": {"x": {"datum": 98, "axis": null}, "y": {"datum": 0.22}}}
       ]}
    ]}
  ]}
]
}
